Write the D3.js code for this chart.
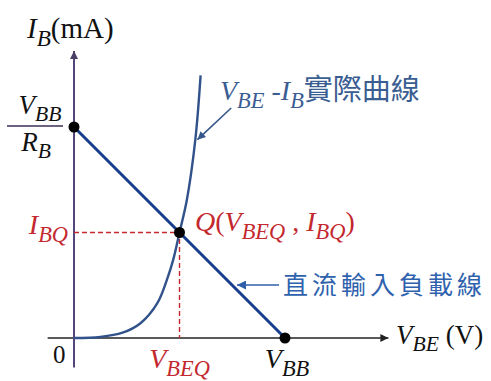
<!DOCTYPE html>
<html>
<head>
<meta charset="utf-8">
<script src="https://cdn.jsdelivr.net/npm/d3@7"></script>
<style>
  html, body { margin: 0; padding: 0; background: #fff; }
  svg { display: block; }
</style>
</head>
<body>
<svg id="chart" width="491" height="381"></svg>
<script>
// Operating point of a BJT input: V_BE–I_B curve and DC input load line.
const VBB = 2.0;          // V  (x-intercept of load line)
const IMAX = 2.0;         // mA (VBB / RB, y-intercept of load line)
const Q = { v: 1.0, i: 1.0 };

// Measured V_BE – I_B characteristic (V, mA)
const curveV = [0, 0.25, 0.46, 0.63, 0.79, 0.89, 0.94, 1.0, 1.07, 1.15, 1.20];
const curveI = [0, 0.01, 0.05, 0.14, 0.33, 0.58, 0.74, 1.0, 1.31, 1.88, 2.49];

const loadV = [0, VBB];
const loadI = [IMAX, 0];

const svg = d3.select("#chart");

const x = d3.scaleLinear().domain([0, VBB]).range([74, 285]);
const y = d3.scaleLinear().domain([0, IMAX]).range([338, 127]);

const serif = "'Liberation Serif', 'DejaVu Serif', serif";
const cjk = "'Noto Sans CJK TC', 'Noto Sans CJK SC', sans-serif";
const RED = "#c4282f";

// arrow markers
const defs = svg.append("defs");
function marker(id, color, w, h) {
  defs.append("marker")
    .attr("id", id).attr("viewBox", "0 0 10 10")
    .attr("refX", 10).attr("refY", 5)
    .attr("markerWidth", w).attr("markerHeight", h)
    .attr("markerUnits", "userSpaceOnUse")
    .attr("orient", "auto")
    .append("path").attr("d", "M0,0 L10,5 L0,10 Z").attr("fill", color);
}
marker("axArrow", "#222", 13, 8);
marker("yArrow", "#4a3d66", 13, 8);
marker("blueArrow", "#35578a", 11, 8);
marker("loadArrow", "#2f5fa8", 12, 9);

// axes
svg.append("line")
  .attr("x1", x(-0.25)).attr("x2", x(2.98))
  .attr("y1", y(0)).attr("y2", y(0))
  .attr("stroke", "#222").attr("stroke-width", 1.5)
  .attr("marker-end", "url(#axArrow)");
svg.append("line")
  .attr("x1", x(0)).attr("x2", x(0))
  .attr("y1", y(-0.28)).attr("y2", y(2.72))
  .attr("stroke", "#54457a").attr("stroke-width", 2)
  .attr("marker-end", "url(#yArrow)");

// dashed guides to Q
svg.append("path")
  .attr("d", `M${x(0)},${y(Q.i)} H${x(Q.v)} V${y(0)}`)
  .attr("fill", "none").attr("stroke", RED)
  .attr("stroke-width", 1.4).attr("stroke-dasharray", "5,3");

// characteristic curve
const curvePts = curveV.map((v, k) => [v, curveI[k]]);
svg.append("path")
  .datum(curvePts)
  .attr("d", d3.line().x(d => x(d[0])).y(d => y(d[1])).curve(d3.curveCatmullRom.alpha(0.5)))
  .attr("fill", "none").attr("stroke", "#31528a").attr("stroke-width", 2.4);

// load line
svg.append("line")
  .attr("x1", x(loadV[0])).attr("y1", y(loadI[0]))
  .attr("x2", x(loadV[1])).attr("y2", y(loadI[1]))
  .attr("stroke", "#173d8d").attr("stroke-width", 3);

// points
[[0, IMAX], [VBB, 0], [Q.v, Q.i]].forEach(p => {
  svg.append("circle").attr("cx", x(p[0])).attr("cy", y(p[1])).attr("r", 5.5).attr("fill", "#000");
});

// callout arrows
svg.append("line")
  .attr("x1", x(1.49)).attr("y1", y(2.18))
  .attr("x2", x(1.17)).attr("y2", y(1.88))
  .attr("stroke", "#35578a").attr("stroke-width", 1.6)
  .attr("marker-end", "url(#blueArrow)");
svg.append("line")
  .attr("x1", 279).attr("y1", 285)
  .attr("x2", 237).attr("y2", 285)
  .attr("stroke", "#2f5fa8").attr("stroke-width", 1.6)
  .attr("marker-end", "url(#loadArrow)");

// rich text helper: parts = [{t, it, sub, font, size}]
function rich(px, py, parts, opts = {}) {
  const size = opts.size || 20;
  const t = svg.append("text")
    .attr("x", px).attr("y", py)
    .attr("fill", opts.color || "#111")
    .attr("font-family", serif)
    .attr("font-size", size)
    .attr("text-anchor", opts.anchor || "start");
  let shifted = 0;
  parts.forEach(p => {
    const sp = t.append("tspan").text(p.t);
    const want = p.sub ? size * 0.27 : 0;
    if (want !== shifted) { sp.attr("dy", want - shifted); shifted = want; }
    sp.attr("font-size", p.sub ? size * 0.8 : (p.size || size));
    if (p.it) sp.attr("font-style", "italic");
    if (p.font) sp.attr("font-family", p.font);
    if (p.ls) sp.attr("letter-spacing", p.ls);
  });
  return t;
}

// axis titles
rich(27, 38, [{ t: "I", it: true }, { t: "B", it: true, sub: true }, { t: "(mA)" }], { size: 29 });
rich(396, 344, [{ t: "V", it: true }, { t: "BE", it: true, sub: true }, { t: " (V)" }], { size: 27 });
rich(53, 363, [{ t: "0" }], { size: 25 });

// VBB / RB fraction
rich(40, 114, [{ t: "V", it: true }, { t: "BB", it: true, sub: true }], { size: 27, anchor: "middle" });
svg.append("line").attr("x1", 7).attr("x2", 63).attr("y1", 126).attr("y2", 126)
  .attr("stroke", "#3a2f55").attr("stroke-width", 1.6);
rich(36, 151, [{ t: "R", it: true }, { t: "B", it: true, sub: true }], { size: 27, anchor: "middle" });

// VBB on x axis
rich(x(VBB) + 2, 368, [{ t: "V", it: true }, { t: "BB", it: true, sub: true }], { size: 28, anchor: "middle" });

// Q labels
rich(x(Q.v), 368, [{ t: "V", it: true }, { t: "BEQ", it: true, sub: true }], { size: 28, anchor: "middle", color: RED });
rich(68, 234, [{ t: "I", it: true }, { t: "BQ", it: true, sub: true }], { size: 28, anchor: "end", color: RED });
rich(195, 231, [
  { t: "Q", it: true }, { t: "(" }, { t: "V", it: true }, { t: "BEQ", it: true, sub: true },
  { t: " , " }, { t: "I", it: true }, { t: "BQ", it: true, sub: true }, { t: ")" }
], { size: 28, color: RED });

// curve label
rich(220, 100, [
  { t: "V", it: true }, { t: "BE", it: true, sub: true }, { t: " -" }, { t: "I", it: true },
  { t: "B", it: true, sub: true }, { t: "實際曲線", font: cjk, size: 29 }
], { size: 28, color: "#3a5d92" });

// load line label
svg.append("text")
  .attr("x", 283).attr("y", 294)
  .attr("font-family", cjk).attr("font-size", 25)
  .attr("letter-spacing", 4)
  .attr("fill", "#2f62ae")
  .text("直流輸入負載線");
</script>
</body>
</html>
